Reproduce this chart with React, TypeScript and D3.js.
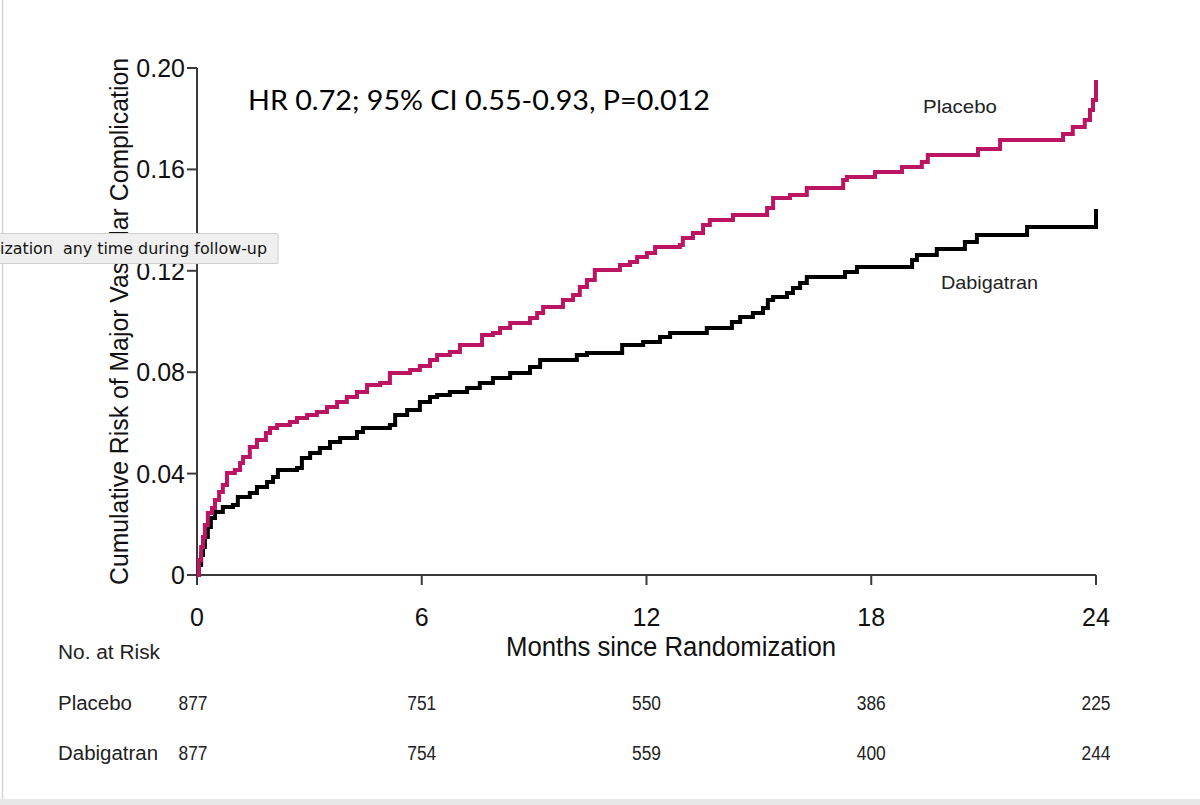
import React from "react";
import * as d3 from "d3";

// Kaplan-Meier style step data: [month, cumulative risk]
const placeboMonths = [0, 0.05, 0.11, 0.16, 0.21, 0.29, 0.40, 0.48, 0.59, 0.69, 0.80, 1.01, 1.15, 1.23, 1.41, 1.60, 1.84, 1.95, 2.14, 2.48, 2.67, 2.94, 3.20, 3.47, 3.74, 4.00, 4.27, 4.54, 4.89, 5.15, 5.69, 5.95, 6.22, 6.41, 6.75, 7.02, 7.61, 7.90, 8.09, 8.36, 8.89, 9.08, 9.24, 9.77, 10.04, 10.22, 10.41, 10.62, 11.29, 11.56, 11.75, 12.01, 12.23, 12.89, 12.97, 13.24, 13.51, 13.69, 14.31, 15.22, 15.38, 15.83, 16.28, 17.25, 17.35, 18.10, 18.82, 19.35, 19.51, 20.85, 21.44, 23.12, 23.38, 23.70, 23.84, 23.92, 24.0];
const placeboRisk = [0, 0.0059, 0.011, 0.015, 0.0197, 0.0245, 0.0264, 0.0296, 0.0327, 0.0355, 0.0402, 0.0414, 0.0442, 0.0465, 0.0505, 0.0533, 0.056, 0.058, 0.0592, 0.0604, 0.0619, 0.0631, 0.0643, 0.0663, 0.0682, 0.0702, 0.0722, 0.075, 0.0757, 0.0797, 0.0809, 0.0824, 0.0848, 0.0868, 0.088, 0.0907, 0.0947, 0.0955, 0.0974, 0.0994, 0.1014, 0.1034, 0.1057, 0.1085, 0.1105, 0.1136, 0.1164, 0.1203, 0.1223, 0.1235, 0.1254, 0.127, 0.1294, 0.1302, 0.1329, 0.1349, 0.1381, 0.14, 0.142, 0.1448, 0.1487, 0.1499, 0.1527, 0.1558, 0.157, 0.159, 0.1609, 0.1629, 0.1657, 0.168, 0.1716, 0.174, 0.1767, 0.1795, 0.1834, 0.1874, 0.1953];

const dabigatranMonths = [0, 0.05, 0.11, 0.16, 0.21, 0.29, 0.37, 0.48, 0.69, 0.96, 1.09, 1.41, 1.60, 1.87, 2.03, 2.16, 2.67, 2.80, 3.02, 3.28, 3.55, 3.82, 4.27, 4.43, 5.15, 5.29, 5.61, 5.95, 6.22, 6.41, 6.75, 7.21, 7.55, 7.90, 8.36, 8.89, 9.16, 10.14, 10.41, 11.35, 11.91, 12.36, 12.63, 13.61, 14.28, 14.50, 14.84, 15.11, 15.24, 15.38, 15.75, 15.91, 16.10, 16.28, 17.30, 17.62, 19.09, 19.22, 19.75, 20.50, 20.82, 22.16, 24.0];
const dabigatranRisk = [0, 0.0039, 0.0079, 0.011, 0.015, 0.0189, 0.0225, 0.0249, 0.0268, 0.0276, 0.0308, 0.0323, 0.0347, 0.0367, 0.0387, 0.0414, 0.0422, 0.0462, 0.0481, 0.0501, 0.0525, 0.054, 0.0564, 0.058, 0.0592, 0.0631, 0.0651, 0.0682, 0.0702, 0.071, 0.0722, 0.0738, 0.0757, 0.0777, 0.0797, 0.0821, 0.0848, 0.0868, 0.0876, 0.0907, 0.0919, 0.0939, 0.0955, 0.0974, 0.0998, 0.1018, 0.1034, 0.1053, 0.1085, 0.1097, 0.1112, 0.1132, 0.1152, 0.1176, 0.1195, 0.1215, 0.1243, 0.1262, 0.1286, 0.1314, 0.1341, 0.1373, 0.1444];

const xTicks = [0, 6, 12, 18, 24];
const yTicks = [0, 0.04, 0.08, 0.12, 0.16, 0.2];
const atRiskPlacebo = [877, 751, 550, 386, 225];
const atRiskDabigatran = [877, 754, 559, 400, 244];

const yTitle = "Cumulative Risk of Major Vascular Complication";
const xTitle = "Months since Randomization";
const hrText = "HR 0.72; 95% CI 0.55-0.93, P=0.012";
const tooltipText = "ization  any time during follow-up";

const PLACEBO_COLOR = "#bb1462";
const AXIS_COLOR = "#3a3a3a";
const FONT = "'Liberation Sans', Arial, sans-serif";

export default function App() {
  const x = d3.scaleLinear().domain([0, 24]).range([197, 1096]);
  const y = d3.scaleLinear().domain([0, 0.2]).range([575, 68]);

  const line = d3
    .line<[number, number]>()
    .x((d) => x(d[0]))
    .y((d) => y(d[1]))
    .curve(d3.curveStepAfter);

  const placebo = placeboMonths.map((m, i) => [m, placeboRisk[i]] as [number, number]);
  const dabi = dabigatranMonths.map((m, i) => [m, dabigatranRisk[i]] as [number, number]);

  const fmtY = (v: number) => (v === 0 ? "0" : d3.format(".2f")(v));

  return (
    <svg
      width={1200}
      height={805}
      style={{ position: "absolute", left: 0, top: 0, background: "#fff" }}
    >
      <rect x={0} y={0} width={1200} height={805} fill="#fff" />
      {/* page frame */}
      <line x1={2.5} y1={0} x2={2.5} y2={800} stroke="#d6d6d6" strokeWidth={1.5} />
      <rect x={0} y={799} width={1200} height={6} fill="#e6e6e6" />

      {/* axes */}
      <g stroke={AXIS_COLOR} strokeWidth={2} fill="none">
        <line x1={x(0)} x2={x(0)} y1={y(0)} y2={y(0.2)} />
        <line x1={x(0)} x2={x(24)} y1={y(0)} y2={y(0)} />
        {yTicks.map((t) => (
          <line key={"yt" + t} x1={x(0) - 10} x2={x(0)} y1={y(t)} y2={y(t)} />
        ))}
        {xTicks.map((t) => (
          <line key={"xt" + t} x1={x(t)} x2={x(t)} y1={y(0)} y2={y(0) + 10} />
        ))}
      </g>
      <g fontFamily={FONT} fontSize={25} fill="#111">
        {yTicks.map((t) => (
          <text key={"yl" + t} x={x(0) - 12} y={y(t)} dy="0.36em" textAnchor="end">
            {fmtY(t)}
          </text>
        ))}
        {xTicks.map((t) => (
          <text key={"xl" + t} x={x(t)} y={y(0) + 51} textAnchor="middle">
            {t}
          </text>
        ))}
      </g>

      {/* axis titles */}
      <text
        transform={`translate(128,${(585 + 58) / 2}) rotate(-90)`}
        textAnchor="middle"
        fontFamily={FONT}
        fontSize={25}
        fill="#111"
        textLength={527}
        lengthAdjust="spacingAndGlyphs"
      >
        {yTitle}
      </text>
      <text
        x={671}
        y={656}
        textAnchor="middle"
        fontFamily={FONT}
        fontSize={27}
        fill="#111"
        textLength={330}
        lengthAdjust="spacingAndGlyphs"
      >
        {xTitle}
      </text>

      {/* curves */}
      <path d={line(dabi) || ""} fill="none" stroke="#000" strokeWidth={4} strokeLinejoin="miter" />
      <path d={line(placebo) || ""} fill="none" stroke={PLACEBO_COLOR} strokeWidth={4} strokeLinejoin="miter" />

      {/* annotations */}
      <text
        x={248}
        y={110}
        fontFamily="Lato, 'Open Sans', sans-serif"
        fontSize={26}
        fill="#000"
        textLength={462}
        lengthAdjust="spacingAndGlyphs"
      >
        {hrText}
      </text>
      <text x={923} y={113} fontFamily={FONT} fontSize={19} fill="#222" textLength={74} lengthAdjust="spacingAndGlyphs">
        Placebo
      </text>
      <text x={941} y={289} fontFamily={FONT} fontSize={19} fill="#222" textLength={97} lengthAdjust="spacingAndGlyphs">
        Dabigatran
      </text>

      {/* number at risk table */}
      <g fontFamily={FONT} fontSize={20} fill="#222">
        <text x={58} y={659} textLength={102} lengthAdjust="spacingAndGlyphs">No. at Risk</text>
        <text x={58} y={710} textLength={74} lengthAdjust="spacingAndGlyphs">Placebo</text>
        <text x={58} y={760} textLength={100} lengthAdjust="spacingAndGlyphs">Dabigatran</text>
        {atRiskPlacebo.map((n, i) => (
          <text key={"rp" + i} x={x(xTicks[i]) - (i === 0 ? 4 : 0)} y={710} textAnchor="middle" textLength={29} lengthAdjust="spacingAndGlyphs">
            {n}
          </text>
        ))}
        {atRiskDabigatran.map((n, i) => (
          <text key={"rd" + i} x={x(xTicks[i]) - (i === 0 ? 4 : 0)} y={760} textAnchor="middle" textLength={29} lengthAdjust="spacingAndGlyphs">
            {n}
          </text>
        ))}
      </g>

      {/* tooltip overlay */}
      <rect x={-1} y={233.5} width={279} height={30} fill="#efefef" stroke="#cfcfcf" strokeWidth={1} rx={1} />
      <text
        x={0}
        y={254}
        fontFamily="'DejaVu Sans', 'Open Sans', sans-serif"
        fontSize={16}
        fill="#111"
        xmlSpace="preserve"
        style={{ whiteSpace: "pre" }}
        textLength={267}
        lengthAdjust="spacingAndGlyphs"
      >
        {tooltipText}
      </text>
    </svg>
  );
}
